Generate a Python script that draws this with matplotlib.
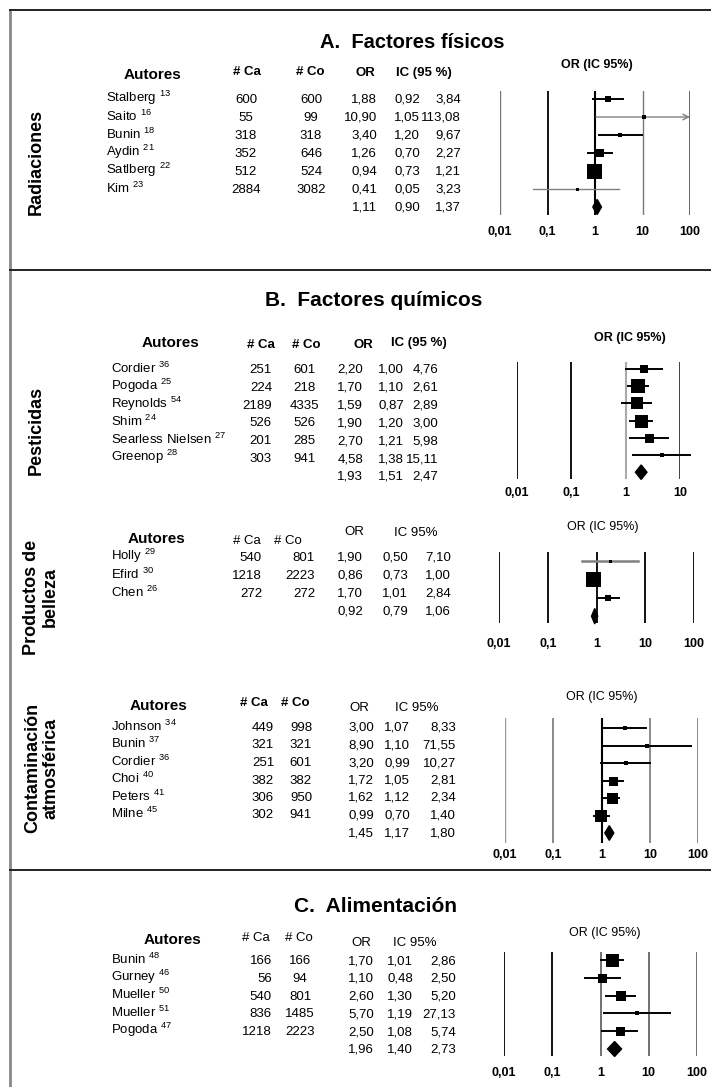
import matplotlib
matplotlib.use('Agg')
import matplotlib.pyplot as plt
from matplotlib.lines import Line2D
from matplotlib.ticker import NullLocator

plt.rcParams['font.family'] = ['Liberation Sans', 'DejaVu Sans']
plt.rcParams['mathtext.default'] = 'regular'

W, H = 711, 1087

# A. Factores fisicos - Radiaciones
rad_auth = ['Stalberg', 'Saito', 'Bunin', 'Aydin', 'Satlberg', 'Kim']
rad_ref = ['13', '16', '18', '21', '22', '23']
rad_ca = [600, 55, 318, 352, 512, 2884]
rad_co = [600, 99, 318, 646, 524, 3082]
rad_or = [1.88, 10.90, 3.40, 1.26, 0.94, 0.41, 1.11]
rad_lo = [0.92, 1.05, 1.20, 0.70, 0.73, 0.05, 0.90]
rad_hi = [3.84, 113.08, 9.67, 2.27, 1.21, 3.23, 1.37]
rad_w = [6, 4, 4, 8, 15, 3]

# B. Factores quimicos - Pesticidas
pes_auth = ['Cordier', 'Pogoda', 'Reynolds', 'Shim', 'Searless Nielsen', 'Greenop']
pes_ref = ['36', '25', '54', '24', '27', '28']
pes_ca = [251, 224, 2189, 526, 201, 303]
pes_co = [601, 218, 4335, 526, 285, 941]
pes_or = [2.20, 1.70, 1.59, 1.90, 2.70, 4.58, 1.93]
pes_lo = [1.00, 1.10, 0.87, 1.20, 1.21, 1.38, 1.51]
pes_hi = [4.76, 2.61, 2.89, 3.00, 5.98, 15.11, 2.47]
pes_w = [8, 14, 12, 13, 9, 5]

# Productos de belleza
bel_auth = ['Holly', 'Efird', 'Chen']
bel_ref = ['29', '30', '26']
bel_ca = [540, 1218, 272]
bel_co = [801, 2223, 272]
bel_or = [1.90, 0.86, 1.70, 0.92]
bel_lo = [0.50, 0.73, 1.01, 0.79]
bel_hi = [7.10, 1.00, 2.84, 1.06]
bel_w = [3, 15, 6]

# Contaminacion atmosferica
con_auth = ['Johnson', 'Bunin', 'Cordier', 'Choi', 'Peters', 'Milne']
con_ref = ['34', '37', '36', '40', '41', '45']
con_ca = [449, 321, 251, 382, 306, 302]
con_co = [998, 321, 601, 382, 950, 941]
con_or = [3.00, 8.90, 3.20, 1.72, 1.62, 0.99, 1.45]
con_lo = [1.07, 1.10, 0.99, 1.05, 1.12, 0.70, 1.17]
con_hi = [8.33, 71.55, 10.27, 2.81, 2.34, 1.40, 1.80]
con_w = [5, 4, 4, 9, 11, 12]

# C. Alimentacion
ali_auth = ['Bunin', 'Gurney', 'Mueller', 'Mueller', 'Pogoda']
ali_ref = ['48', '46', '50', '51', '47']
ali_ca = [166, 56, 540, 836, 1218]
ali_co = [166, 94, 801, 1485, 2223]
ali_or = [1.70, 1.10, 2.60, 5.70, 2.50, 1.96]
ali_lo = [1.01, 0.48, 1.30, 1.19, 1.08, 1.40]
ali_hi = [2.86, 2.50, 5.20, 27.13, 5.74, 2.73]
ali_w = [13, 9, 10, 4, 9]

tick_labels = {0.01: '0,01', 0.1: '0,1', 1: '1', 10: '10', 100: '100'}

fig = plt.figure(figsize=(W / 100, H / 100), dpi=100)


def fx(x):
    return x / W


def fy(y):
    return 1 - y / H


def fmt(v):
    return f'{v:.2f}'.replace('.', ',')


def txt(x, y, s, ha='center', size=9.5, weight='normal', **kw):
    fig.text(fx(x), fy(y), s, ha=ha, va='center', fontsize=size,
             fontweight=weight, **kw)


def table(auth, ref, ca, co, orv, lo, hi, y0, dy, cols, ca_ha='center', co_ha='center'):
    xn, xca, xco, xor, xlo, xhi = cols
    for i in range(len(orv)):
        y = y0 + dy * i
        if i < len(auth):
            txt(xn, y - 2, f'{auth[i]} $^{{{ref[i]}}}$', ha='left')
            txt(xca, y, str(ca[i]), ha=ca_ha)
            txt(xco, y, str(co[i]), ha=co_ha)
        txt(xor, y, fmt(orv[i]), ha='right')
        txt(xlo, y, fmt(lo[i]), ha='right')
        txt(xhi, y, fmt(hi[i]), ha='right')


def headers(pos, bold):
    names = ['Autores', '# Ca', '# Co', 'OR', pos[4][2], 'OR (IC 95%)']
    sizes = [11, 9.5, 9.5, 9.5, 9.5, 9]
    for (x, y, *_), n, s, b in zip(pos, names, sizes, bold):
        txt(x, y, n, size=s, weight='bold' if b else 'normal')


def forest(x0, x1, y_top, y_bot, y0, dy, xlim, orv, lo, hi, w, vstyle, pad,
           grey=(), arrow=(), grey_lw=1.0):
    ax = fig.add_axes([fx(x0), fy(y_bot), (x1 - x0) / W, (y_bot - y_top) / H])
    ax.set_xscale('log')
    ax.set_xlim(xlim)
    ax.set_ylim((y_bot - y0) / dy, (y_top - y0) / dy)
    ticks = [t for t in tick_labels if xlim[0] <= t <= xlim[1]]
    for t, (c, lw) in zip(ticks, vstyle):
        ax.axvline(t, color=c, lw=lw, zorder=1)
    n = len(orv)
    for i in range(n - 1):
        col = '#808080' if i in grey else 'black'
        lw = grey_lw if i in grey else 1.4
        if i in arrow:
            ax.annotate('', xy=(xlim[1], i), xytext=(lo[i], i),
                        arrowprops=dict(arrowstyle='->', color=col, lw=lw,
                                        shrinkA=0, shrinkB=0))
        else:
            ax.plot([lo[i], hi[i]], [i, i], color=col, lw=lw, zorder=2,
                    clip_on=False)
        ax.plot(orv[i], i, 's', ms=w[i] * 0.72, color='black', mew=0,
                zorder=3, clip_on=False)
    p = n - 1
    ax.fill([lo[p], orv[p], hi[p], orv[p]], [p, p - 0.42, p, p + 0.42],
            color='black', zorder=3, clip_on=False)
    ax.set_xticks(ticks)
    ax.set_xticklabels([tick_labels[t] for t in ticks], fontweight='bold',
                       fontsize=9)
    ax.xaxis.set_minor_locator(NullLocator())
    ax.tick_params(length=0, pad=pad)
    ax.set_yticks([])
    for s in ax.spines.values():
        s.set_visible(False)
    ax.patch.set_visible(False)
    return ax


# frame
fig.add_artist(Line2D([fx(10), fx(10)], [fy(10), fy(1087)], color='#888888', lw=2))
for yy in (10, 270, 870):
    fig.add_artist(Line2D([fx(10), fx(711)], [fy(yy), fy(yy)], color='#222222', lw=1.4))

# side labels
side = dict(rotation=90, size=13, weight='bold', multialignment='center')
txt(36, 162, 'Radiaciones', **side)
txt(36, 430, 'Pesticidas', **side)
txt(41, 597, 'Productos de\nbelleza', linespacing=1.15, **side)
txt(42, 768, 'Contaminación\natmosférica', linespacing=1.15, **side)

# titles
txt(412, 43, 'A.  Factores físicos', size=14.5, weight='bold')
txt(374, 300, 'B.  Factores químicos', size=15, weight='bold')
txt(375, 907, 'C.  Alimentación', size=15, weight='bold')

# A
headers([(152, 75), (247, 72), (310, 72), (365, 73), (424, 73, 'IC (95 %)'), (597, 65)],
        [1, 1, 1, 1, 1, 1])
table(rad_auth, rad_ref, rad_ca, rad_co, rad_or, rad_lo, rad_hi, 100, 18,
      (106, 246, 311, 377, 420, 461))
forest(500, 690, 91, 215, 99, 18, (0.01, 100), rad_or, rad_lo, rad_hi, rad_w,
       [('#777777', 1.0), ('black', 1.3), ('black', 1.5), ('#777777', 1.0), ('#555555', 2.0)],
       8, grey=(1, 5), arrow=(1,))

# B pesticidas
headers([(171, 343), (261, 345), (306, 345), (363, 345), (419, 343, 'IC (95 %)'), (630, 338)],
        [1, 1, 1, 1, 1, 1])
table(pes_auth, pes_ref, pes_ca, pes_co, pes_or, pes_lo, pes_hi, 370, 17.8,
      (111, 272, 304, 363, 404, 438), ca_ha='right')
forest(517, 680, 362, 479, 369, 17.2, (0.01, 10), pes_or, pes_lo, pes_hi, pes_w,
       [('black', 1.3), ('black', 1.3), ('#aaaaaa', 1.5), ('#333333', 1.3)], 6)

# B productos de belleza
headers([(156, 539), (247, 541), (288, 541), (354, 532), (416, 533, 'IC 95%'), (603, 527)],
        [1, 0, 0, 0, 0, 0])
table(bel_auth, bel_ref, bel_ca, bel_co, bel_or, bel_lo, bel_hi, 558, 18,
      (111, 262, 315, 363, 408, 451), ca_ha='right', co_ha='right')
forest(499, 694, 552, 623, 561, 18.4, (0.01, 100), bel_or, bel_lo, bel_hi, bel_w,
       [('black', 1.3)] * 5, 11, grey=(0,), grey_lw=1.8)

# B contaminacion
headers([(159, 706), (254, 703), (295, 703), (359, 708), (417, 708, 'IC 95%'), (602, 697)],
        [1, 1, 1, 0, 0, 0])
table(con_auth, con_ref, con_ca, con_co, con_or, con_lo, con_hi, 728, 17.5,
      (111, 263, 301, 374, 410, 456))
forest(505, 698, 718, 843, 728, 17.5, (0.01, 100), con_or, con_lo, con_hi, con_w,
       [('#999999', 1.0), ('#777777', 1.2), ('black', 1.5), ('#777777', 1.2), ('#777777', 1.2)], 4)

# C
headers([(172, 940), (256, 938), (299, 938), (361, 943), (415, 943, 'IC 95%'), (605, 933)],
        [1, 0, 0, 0, 0, 0])
table(ali_auth, ali_ref, ali_ca, ali_co, ali_or, ali_lo, ali_hi, 961, 17.8,
      (111, 272, 300, 374, 413, 456), ca_ha='right')
forest(504, 697, 952, 1056, 960, 17.8, (0.01, 100), ali_or, ali_lo, ali_hi, ali_w,
       [('black', 1.3), ('black', 1.3), ('#666666', 1.3), ('#666666', 1.3), ('#666666', 1.3)], 8)

fig.savefig('out.png', dpi=100)
